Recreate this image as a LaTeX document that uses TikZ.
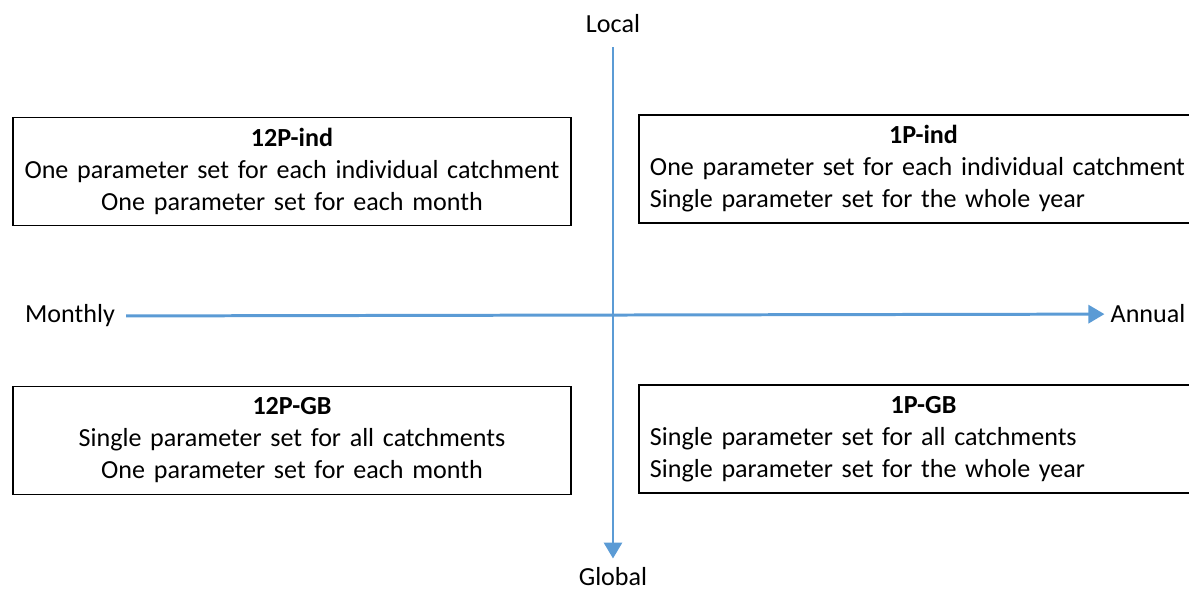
\documentclass[tikz,border=0pt]{standalone}
\usepackage{fontspec}
\setmainfont{Carlito}
\usetikzlibrary{arrows.meta}
\definecolor{axisblue}{RGB}{91,155,213}

\begin{document}
\begin{tikzpicture}[
        axis/.style={draw=axisblue,line width=1.7pt,-{Triangle[length=0.32cm,width=0.36cm]}},
        quadbox/.style={draw,line width=0.8pt,minimum height=2.16cm,inner ysep=0pt,
            font=\fontsize{14.84}{18.2}\selectfont},
        leftbox/.style={quadbox,inner xsep=0.1cm,text width=10.96cm,align=center},
        rightbox/.style={quadbox,inner xsep=0.22cm,text width=10.94cm,align=left},
        axislabel/.style={font=\fontsize{14.84}{18.2}\selectfont,anchor=base}
    ]
        \useasboundingbox (-12.26,-5.56) rectangle (11.52,6.28);
        \clip (-12.26,-5.56) rectangle (11.52,6.28);
        % axis labels
        \node[axislabel] (local) at (0,5.62) {Local};
        \node[axislabel,inner ysep=0.06cm] (global) at (0,-5.44) {Global};
        \node[axislabel] (monthly) at (-10.86,-0.18) {Monthly};
        \node[axislabel] (annual) at (10.70,-0.18) {Annual};
        % axes
        \draw[axis,shorten <=0.16cm,shorten >=0.12cm] (local) -- (global);
        \draw[axis,shorten <=0.1cm] (monthly) -- (annual);
        % quadrants
        \node[leftbox] (ind12) at (-6.42,2.85) {\textbf{12P-ind}\\One parameter set for each individual catchment\\One parameter set for each month\vphantom{g}};
        \node[rightbox] (ind1) at (6.21,2.90) {\makebox[\linewidth]{\textbf{1P-ind}}\\One parameter set for each individual catchment\\Single parameter set for the whole year};
        \node[leftbox] (gb12) at (-6.42,-2.53) {\textbf{12P-GB}\\Single parameter set for all catchments\\One parameter set for each month\vphantom{g}};
        \node[rightbox] (gb1) at (6.21,-2.50) {\makebox[\linewidth]{\textbf{1P-GB}}\\Single parameter set for all catchments\\Single parameter set for the whole year};
    \end{tikzpicture}
\end{document}
